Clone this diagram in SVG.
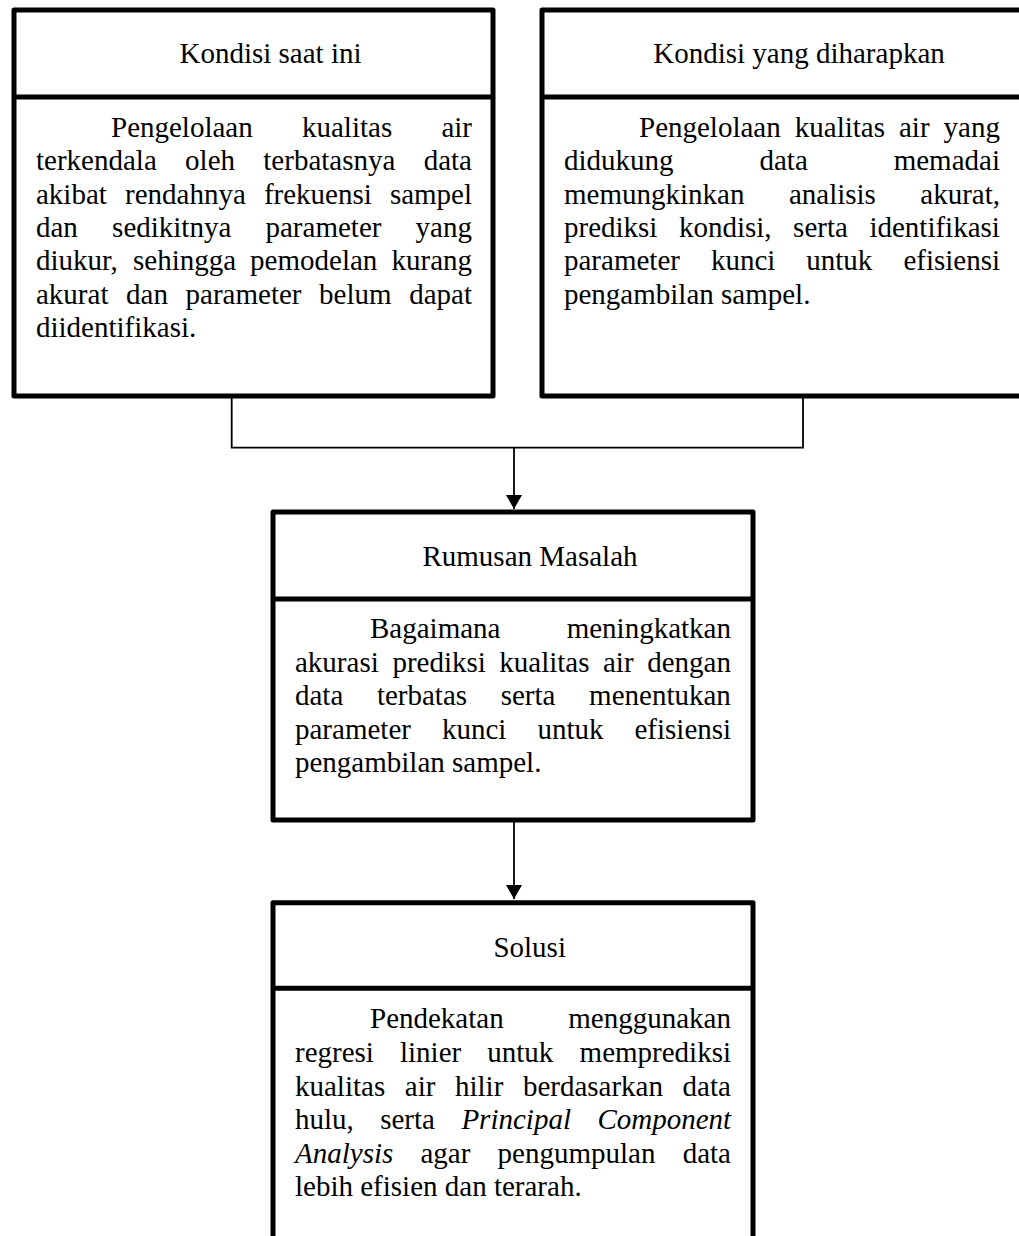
<svg xmlns="http://www.w3.org/2000/svg" width="1019" height="1236" viewBox="0 0 1019 1236">
<style>
.box{fill:#fff;stroke:#000;stroke-width:5;stroke-linejoin:round}
.div{stroke:#000;stroke-width:5}
.t{font-family:"Liberation Serif","Times New Roman",serif;font-size:29px;fill:#000}
.h{text-anchor:middle}
.i{font-style:italic}
.con{fill:none;stroke:#000;stroke-width:1.8}
</style>
<defs>
<marker id="arr" markerUnits="userSpaceOnUse" markerWidth="18" markerHeight="16" refX="14" refY="8" orient="auto">
<path d="M0,0 L14,8 L0,16 Z" fill="#000"/>
</marker>
</defs>
<rect width="1019" height="1236" fill="#fff"/>

<g id="connectors">
<path class="con" d="M231.7,396 V447.7 H803 V396"/>
<path class="con" d="M514,447.7 V509" marker-end="url(#arr)"/>
<path class="con" d="M514,820 V899" marker-end="url(#arr)"/>
</g>

<g id="node-kondisi-saat-ini">
<rect class="box" x="14" y="10" width="479" height="386"/>
<line class="div" x1="14" y1="97" x2="493" y2="97"/>
<text class="t h" x="270.5" y="63">Kondisi saat ini</text>
<text class="t"><tspan x="111" y="137">Pengelolaan</tspan><tspan x="302">kualitas</tspan><tspan x="441.4">air</tspan></text>
<text class="t"><tspan x="36" y="170.3">terkendala</tspan><tspan x="185.1">oleh</tspan><tspan x="263.3">terbatasnya</tspan><tspan x="423.7">data</tspan></text>
<text class="t"><tspan x="36" y="203.6">akibat</tspan><tspan x="125">rendahnya</tspan><tspan x="263.9">frekuensi</tspan><tspan x="389.9">sampel</tspan></text>
<text class="t"><tspan x="36" y="237">dan</tspan><tspan x="112.1">sedikitnya</tspan><tspan x="265.5">parameter</tspan><tspan x="415.6">yang</tspan></text>
<text class="t"><tspan x="36" y="270.3">diukur,</tspan><tspan x="133">sehingga</tspan><tspan x="250.1">pemodelan</tspan><tspan x="391.5">kurang</tspan></text>
<text class="t"><tspan x="36" y="303.6">akurat</tspan><tspan x="126.1">dan</tspan><tspan x="185.6">parameter</tspan><tspan x="319.1">belum</tspan><tspan x="409.2">dapat</tspan></text>
<text class="t" x="36" y="337">diidentifikasi.</text>
</g>

<g id="node-kondisi-diharapkan">
<rect class="box" x="542" y="10" width="481" height="386"/>
<line class="div" x1="542" y1="97" x2="1023" y2="97"/>
<text class="t h" x="799" y="63">Kondisi yang diharapkan</text>
<text class="t"><tspan x="639" y="137">Pengelolaan</tspan><tspan x="794.8">kualitas</tspan><tspan x="899">air</tspan><tspan x="943.6">yang</tspan></text>
<text class="t"><tspan x="564" y="170.3">didukung</tspan><tspan x="759.5">data</tspan><tspan x="893.7">memadai</tspan></text>
<text class="t"><tspan x="564" y="203.6">memungkinkan</tspan><tspan x="788.9">analisis</tspan><tspan x="920.3">akurat,</tspan></text>
<text class="t"><tspan x="564" y="237">prediksi</tspan><tspan x="678.9">kondisi,</tspan><tspan x="793.1">serta</tspan><tspan x="869.4">identifikasi</tspan></text>
<text class="t"><tspan x="564" y="270.3">parameter</tspan><tspan x="710.9">kunci</tspan><tspan x="806.3">untuk</tspan><tspan x="903.4">efisiensi</tspan></text>
<text class="t" x="564" y="303.6">pengambilan sampel.</text>
</g>

<g id="node-rumusan-masalah">
<rect class="box" x="273" y="512" width="480" height="308"/>
<line class="div" x1="273" y1="599" x2="753" y2="599"/>
<text class="t h" x="530" y="565.7">Rumusan Masalah</text>
<text class="t"><tspan x="370" y="638">Bagaimana</tspan><tspan x="566.7">meningkatkan</tspan></text>
<text class="t"><tspan x="295" y="671.6">akurasi</tspan><tspan x="392.4">prediksi</tspan><tspan x="499.3">kualitas</tspan><tspan x="603">air</tspan><tspan x="647.2">dengan</tspan></text>
<text class="t"><tspan x="295" y="705.2">data</tspan><tspan x="376.9">terbatas</tspan><tspan x="500.7">serta</tspan><tspan x="589.1">menentukan</tspan></text>
<text class="t"><tspan x="295" y="738.8">parameter</tspan><tspan x="441.9">kunci</tspan><tspan x="537.4">untuk</tspan><tspan x="634.5">efisiensi</tspan></text>
<text class="t" x="295" y="772.4">pengambilan sampel.</text>
</g>

<g id="node-solusi">
<rect class="box" x="273" y="902.7" width="480" height="360"/>
<line class="div" x1="273" y1="988.3" x2="753" y2="988.3"/>
<text class="t h" x="529.7" y="956.7">Solusi</text>
<text class="t"><tspan x="370" y="1028.3">Pendekatan</tspan><tspan x="568.3">menggunakan</tspan></text>
<text class="t"><tspan x="295" y="1061.9">regresi</tspan><tspan x="400">linier</tspan><tspan x="487.3">untuk</tspan><tspan x="579.6">memprediksi</tspan></text>
<text class="t"><tspan x="295" y="1095.5">kualitas</tspan><tspan x="404.8">air</tspan><tspan x="455">hilir</tspan><tspan x="522.9">berdasarkan</tspan><tspan x="682.6">data</tspan></text>
<text class="t"><tspan x="295" y="1129.1">hulu,</tspan><tspan x="380.2">serta</tspan><tspan class="i" x="461.4">Principal</tspan><tspan class="i" x="597.4">Component</tspan></text>
<text class="t"><tspan class="i" x="295" y="1162.7">Analysis</tspan><tspan x="420.5">agar</tspan><tspan x="497.6">pengumpulan</tspan><tspan x="682.7">data</tspan></text>
<text class="t" x="295" y="1196.3">lebih efisien dan terarah.</text>
</g>
</svg>
